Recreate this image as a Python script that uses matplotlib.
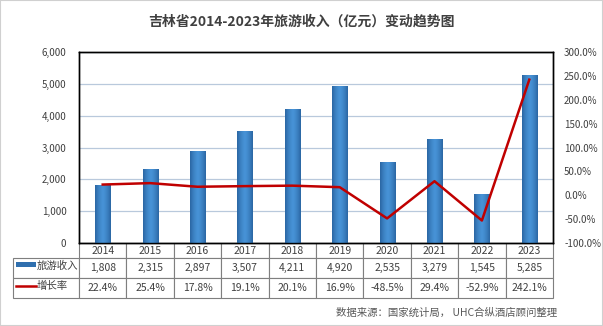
import numpy as np
import matplotlib
matplotlib.use("Agg")
import matplotlib.pyplot as plt
from matplotlib.patches import Rectangle
from matplotlib.lines import Line2D

plt.rcParams['font.family'] = ['Noto Sans CJK SC', 'DejaVu Sans']

years = ['2014', '2015', '2016', '2017', '2018', '2019', '2020', '2021', '2022', '2023']
income = [1808, 2315, 2897, 3507, 4211, 4920, 2535, 3279, 1545, 5285]
growth = [22.4, 25.4, 17.8, 19.1, 20.1, 16.9, -48.5, 29.4, -52.9, 242.1]
income_labels = ['1,808', '2,315', '2,897', '3,507', '4,211', '4,920', '2,535', '3,279', '1,545', '5,285']
growth_labels = ['22.4%', '25.4%', '17.8%', '19.1%', '20.1%', '16.9%', '-48.5%', '29.4%', '-52.9%', '242.1%']

W, H = 603, 326
fig = plt.figure(figsize=(W / 100, H / 100), dpi=100)
fig.patch.set_facecolor('white')
fig.add_artist(Rectangle((0, 0), 1, 1, transform=fig.transFigure, fill=False,
                         edgecolor='#d0d0d0', linewidth=1.5))

# axes box in pixels: left 79, right 553, top 52, bottom 243
ax = fig.add_axes([79 / W, (H - 243) / H, (553 - 79) / W, (243 - 52) / H])
x = np.arange(len(years))
bars = ax.bar(x, income, width=0.32, color='#2f6fae', zorder=2)

# horizontal gradient on each bar
grad = np.abs(np.linspace(-1, 1, 64)) ** 1.5
cmap = matplotlib.colors.LinearSegmentedColormap.from_list('b', ['#4792d6', '#2a66a3'])
for b in bars:
    im = ax.imshow(grad[np.newaxis, :], cmap=cmap, aspect='auto', zorder=3,
                   extent=[b.get_x(), b.get_x() + b.get_width(), 0, b.get_height()])
    im.set_clip_path(b)

ax.set_xlim(-0.5, len(years) - 0.5)
ax.set_ylim(0, 6000)
ax.set_yticks(np.arange(0, 6001, 1000))
ax.set_yticklabels([f'{v:,}' for v in range(0, 6001, 1000)])
ax.yaxis.grid(True, color='#b9c9dc', linewidth=0.9, zorder=0)
ax.set_xticks([])
ax.tick_params(axis='y', length=0, pad=9, labelsize=7, labelcolor='#404040')
for s in ax.spines.values():
    s.set_color('black')
    s.set_linewidth(1)

ax2 = ax.twinx()
ax2.plot(x, growth, color='#c00000', linewidth=1.8, zorder=4)
ax2.set_ylim(-100, 300)
ax2.set_yticks(np.arange(-100, 301, 50))
ax2.set_yticklabels([f'{v:.1f}%' for v in range(-100, 301, 50)])
ax2.tick_params(axis='y', length=0, pad=8, labelsize=7, labelcolor='#404040')
for s in ax2.spines.values():
    s.set_color('black')
    s.set_linewidth(1)

# data table below the plot
ax_h = 243 - 52
ax_w = 553 - 79
tb_left = (13 - 79) / ax_w
tb_h = (298 - 243) / ax_h
cells = [[''] + years, [''] + income_labels, [''] + growth_labels]
tbl = ax.table(cellText=cells, cellLoc='center',
               bbox=[tb_left, -tb_h, 1 - tb_left, tb_h])
tbl.auto_set_font_size(False)
tbl.set_fontsize(7.5)
first_w = (79 - 13) / (553 - 13)
other_w = (1 - first_w) / len(years)
for (r, c), cell in tbl.get_celld().items():
    cell.set_width(first_w if c == 0 else other_w)
    cell.set_height(15 if r == 0 else 20)
    cell.set_edgecolor('#7f7f7f')
    cell.set_linewidth(0.8)
    cell.get_text().set_color('#404040')
    if r == 0 and c == 0:
        cell.visible_edges = ''

# legend markers in the first column
def px(xp, yp):
    return ((xp - 79) / ax_w, (243 - yp) / ax_h)

x0, y0 = px(16, 267)
x1, y1 = px(36, 262)
ax.add_patch(Rectangle((x0, y0), x1 - x0, y1 - y0, transform=ax.transAxes,
                       facecolor='#2f6fae', edgecolor='none', clip_on=False))
lx0, ly = px(16, 286)
lx1, _ = px(36, 286)
ax.add_line(Line2D([lx0, lx1], [ly, ly], transform=ax.transAxes, color='#c00000',
                   linewidth=1.8, clip_on=False))
tx, ty = px(37, 266)
ax.text(tx, ty, '旅游收入', transform=ax.transAxes, fontsize=7.5, color='#404040',
        va='center', ha='left')
tx, ty = px(37, 286)
ax.text(tx, ty, '增长率', transform=ax.transAxes, fontsize=7.5, color='#404040',
        va='center', ha='left')

fig.text(0.5, 1 - 22 / H, '吉林省2014-2023年旅游收入（亿元）变动趋势图', ha='center', va='center',
         fontsize=10, fontweight='bold', color='#404040')
fig.text(557 / W, 1 - 313 / H, '数据来源：国家统计局， UHC合纵酒店顾问整理', ha='right', va='center',
         fontsize=7.5, color='#595959')

fig.savefig('out.png', dpi=100)
